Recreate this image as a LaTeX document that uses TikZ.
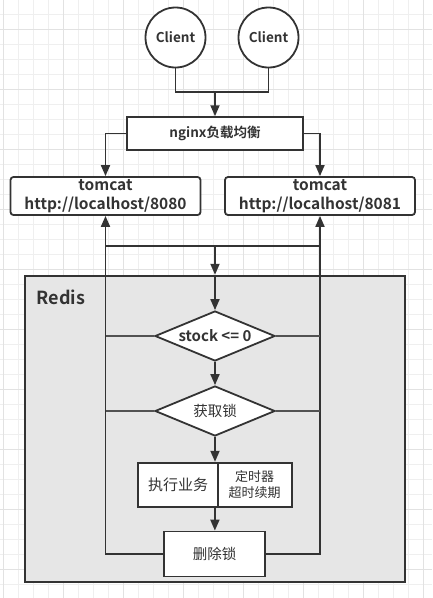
\documentclass[tikz,border=0pt]{standalone}
\usepackage{fontspec}
\setmainfont{Noto Sans CJK SC}[BoldFont={* Bold}]
\usetikzlibrary{arrows.meta,shapes.geometric}
\definecolor{ink}{HTML}{333333}
\definecolor{gridminor}{HTML}{EFEFEF}
\definecolor{gridmajor}{HTML}{E2E2E2}
\definecolor{redisfill}{HTML}{E6E6E6}
\tikzset{
  line/.style={draw=ink, line width=1.8pt},
  branch/.style={draw=ink!85, line width=1.3pt},
  box/.style={draw=ink, line width=1.8pt, fill=white, text=ink, inner sep=0pt},
  client/.style={box, circle, minimum size=60pt, font=\bfseries\fontsize{13.5}{15}\selectfont},
  server/.style={box, rounded corners=3pt, minimum width=190pt, minimum height=38pt,
    align=center, font=\bfseries\fontsize{15.5}{19}\selectfont},
  check/.style={box, diamond, aspect=2.4, minimum width=120pt, minimum height=50pt},
  >={Triangle[length=11pt,width=9pt]}
}
\begin{document}
\begin{tikzpicture}[x=1pt, y=-1pt]
    \useasboundingbox (0,0) rectangle (432,598);

    % background grid
    \foreach \x in {3.3,18.3,...,432} \draw[gridminor, line width=1pt] (\x,0) -- (\x,598);
    \foreach \y in {14.3,29.3,...,598} \draw[gridminor, line width=1pt] (0,\y) -- (432,\y);
    \foreach \x in {3.3,63.3,...,432} \draw[gridmajor, line width=1pt] (\x,0) -- (\x,598);
    \foreach \y in {29.3,89.3,...,598} \draw[gridmajor, line width=1pt] (0,\y) -- (432,\y);

    % redis area
    \node[draw=ink, line width=1.8pt, fill=redisfill, inner sep=0pt,
          minimum width=380pt, minimum height=306.6pt] (redis) at (215,429) {};
    \node[text=ink, font=\bfseries\fontsize{18}{20}\selectfont] (redislabel) at (61,297) {Redis};

    % nodes
    \node[client] (c1) at (175.5,37.5) {Client};
    \node[client] (c2) at (268.5,37.5) {Client};
    \node[box, minimum width=176.6pt, minimum height=32.7pt,
          font=\bfseries\fontsize{13.5}{15}\selectfont] (nginx) at (215,133.5) {nginx负载均衡};
    \node[server] (t1) at (105.5,196) {tomcat\\http://localhost/8080};
    \node[server] (t2) at (320,196) {tomcat\\http://localhost/8081};
    \node[check, font=\bfseries\fontsize{15}{17}\selectfont] (stock) at (215,336) {stock <= 0};
    \node[check, font=\fontsize{14.5}{16}\selectfont] (lock) at (215,411) {获取锁};
    \node[box, minimum width=79.4pt, minimum height=44.6pt,
          font=\fontsize{15}{16}\selectfont] (task) at (178,485) {执行业务};
    \node[box, minimum width=74pt, minimum height=44.6pt, align=center,
          font=\fontsize{13}{16}\selectfont] (timer) at (254.7,485) {定时器\\超时续期};
    \node[box, minimum width=100.7pt, minimum height=45pt,
          font=\fontsize{14.5}{16}\selectfont] (unlock) at (214.7,554) {删除锁};

    % coordinates to be reused
    \coordinate (join) at (215,91.7);
    \coordinate (busL) at (105.5,246);
    \coordinate (busR) at (320,246);
    \coordinate (bus) at (215,246);

    % connectors
    \draw[line] (c1) |- (join);
    \draw[line] (c2) |- (join);
    \draw[line, ->] (join) -- (nginx);
    \draw[line, ->] (nginx.west) -| (t1);
    \draw[line, ->] (nginx.east) -| (t2);
    \draw[line] (busL) -- (busR);
    \draw[line, ->] (bus) -- (redis.north);
    \draw[line, ->] (redis.north) -- (stock.north);
    \draw[line, ->] (stock) -- (lock);
    \draw[line, ->] (lock.south) -- (lock.south |- task.north);
    \draw[line, ->] (lock.south |- task.south) -- (unlock);
    \draw[line, ->] (unlock.west) -| (t1.south);
    \draw[line, ->] (unlock.east) -| (t2.south);
    \draw[branch] (stock.west) -- (stock.west -| t1.south);
    \draw[branch] (stock.east) -- (stock.east -| t2.south);
    \draw[branch] (lock.west) -- (lock.west -| t1.south);
    \draw[branch] (lock.east) -- (lock.east -| t2.south);
\end{tikzpicture}
\end{document}
